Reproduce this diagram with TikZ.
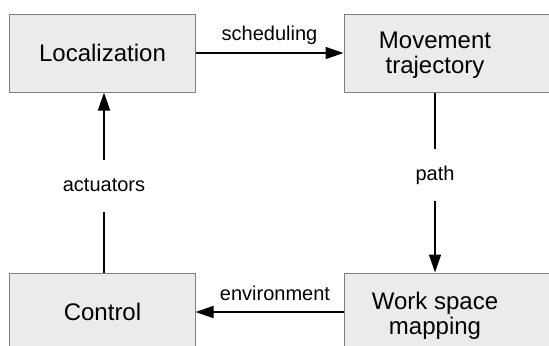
\documentclass[tikz,border=0pt]{standalone}
\usepackage{fontspec}
\setmainfont{Liberation Sans}
\usetikzlibrary{arrows.meta}
\definecolor{boxfill}{HTML}{EBEBEB}
\definecolor{boxline}{HTML}{7F7F7F}
\tikzset{
  block/.style={draw=boxline, fill=boxfill, line width=1bp, minimum width=185bp,
    minimum height=78bp, inner sep=0pt, align=center,
    font=\fontsize{24bp}{25bp}\selectfont},
  blocktext/.style={font=\fontsize{24bp}{25bp}\selectfont, align=center, inner sep=0pt},
  link/.style={line width=1.6bp},
  flow/.style={link, -{Triangle[length=18bp,width=12bp]}},
  tag/.style={font=\fontsize{20bp}{22bp}\selectfont, inner xsep=0pt, inner ysep=17bp,
    text height=14bp, text depth=4bp}
}
\begin{document}
\begin{tikzpicture}[x=1bp,y=-1bp]
  \useasboundingbox (0,0) rectangle (549,345);
  \clip (0,0) rectangle (549,345);
  % boxes
  \node[block] (loc) at (102.5,53) {Localization};
  \node[block, minimum width=230bp] (move) at (459,53) {};
  \node[blocktext] (movetext) at (435,55) {Movement\\trajectory};
  \node[block] (ctrl) at (102.5,312) {Control};
  \node[block, minimum width=230bp] (work) at (459,312) {};
  \node[blocktext] (worktext) at (435,316) {Work space\\mapping};

  % labels
  \node[tag, inner ysep=0pt] (schedtag) at (269.5,35) {scheduling};
  \node[tag, inner ysep=0pt] (envtag) at (275,295) {environment};
  \node[tag] (pathtag) at (435,175) {path};
  \node[tag] (acttag) at (104,186) {actuators};

  % connectors
  \draw[flow] (loc.east) -- (move.west);
  \draw[link] (movetext |- move.south) -- (pathtag.north);
  \draw[flow] (pathtag.south) -- (pathtag |- work.north);
  \draw[flow] (work.west) -- (ctrl.east);
  \draw[link] (acttag |- ctrl.north) -- (acttag.south);
  \draw[flow] (acttag.north) -- (acttag |- loc.south);
\end{tikzpicture}
\end{document}
